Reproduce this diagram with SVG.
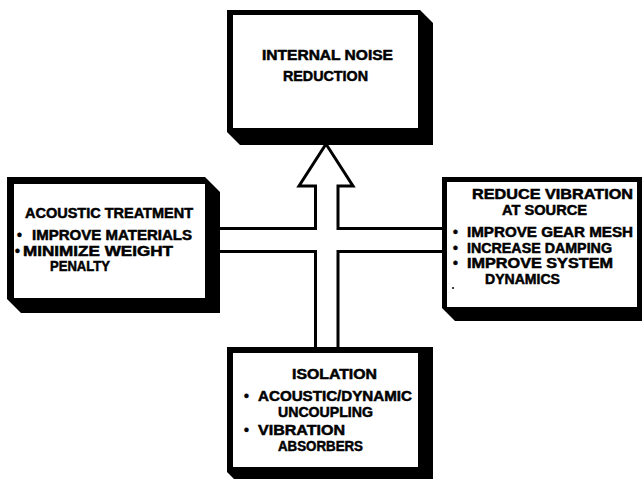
<svg xmlns="http://www.w3.org/2000/svg" width="642" height="479" viewBox="0 0 642 479">
<style>
.shadow{fill:#000}
.face{fill:#fff}
.t{font-family:"Liberation Sans","DejaVu Sans",sans-serif;font-weight:bold;font-size:14px;fill:#000;stroke:#000;stroke-width:0.5}
.conn{fill:#fff;stroke:#000;stroke-width:3;stroke-linejoin:miter}
</style>
<rect width="642" height="479" fill="#fff"/>
<g id="connectors">
<polygon class="conn" points="326,144 353,186 338,186 338,228.5 446,228.5 446,251.5 338,251.5 338,352 315.5,352 315.5,251.5 214,251.5 214,228.5 315.5,228.5 315.5,186 299,186 326,144"/>
</g>
<g id="node-top">
<polygon class="shadow" points="227,10 420,10 433,23 433,145 240,145 227,132"/>
<rect class="face" x="233" y="15" width="185" height="113"/>
<text class="t" x="262" y="60" textLength="131" lengthAdjust="spacingAndGlyphs">INTERNAL NOISE</text>
<text class="t" x="283" y="81" textLength="85" lengthAdjust="spacingAndGlyphs">REDUCTION</text>
</g>
<g id="node-left">
<polygon class="shadow" points="7,177 205,177 220,192 220,313 21,313 7,299"/>
<rect class="face" x="14" y="184" width="191" height="114"/>
<text class="t" x="25" y="218" textLength="168" lengthAdjust="spacingAndGlyphs">ACOUSTIC TREATMENT</text>
<text class="t" x="17" y="240">•</text>
<text class="t" x="32" y="240" textLength="160" lengthAdjust="spacingAndGlyphs">IMPROVE MATERIALS</text>
<text class="t" x="15" y="255.5">•</text>
<text class="t" x="23" y="255.5" textLength="150" lengthAdjust="spacingAndGlyphs">MINIMIZE WEIGHT</text>
<text class="t" x="50" y="271" textLength="60" lengthAdjust="spacingAndGlyphs">PENALTY</text>
</g>
<g id="node-right">
<polygon class="shadow" points="442,177 650,177 650,321 455,321 442,308"/>
<rect class="face" x="447" y="182" width="190" height="125"/>
<text class="t" x="472" y="199" textLength="161" lengthAdjust="spacingAndGlyphs">REDUCE VIBRATION</text>
<text class="t" x="502" y="214.5" textLength="85" lengthAdjust="spacingAndGlyphs">AT SOURCE</text>
<text class="t" x="453" y="237">•</text>
<text class="t" x="467" y="237" textLength="166" lengthAdjust="spacingAndGlyphs">IMPROVE GEAR MESH</text>
<text class="t" x="453" y="252.5">•</text>
<text class="t" x="467" y="252.5" textLength="145" lengthAdjust="spacingAndGlyphs">INCREASE DAMPING</text>
<text class="t" x="453" y="268">•</text>
<text class="t" x="467" y="268" textLength="146" lengthAdjust="spacingAndGlyphs">IMPROVE SYSTEM</text>
<text class="t" x="485" y="283.5" textLength="75" lengthAdjust="spacingAndGlyphs">DYNAMICS</text>
<circle cx="453" cy="288" r="1" fill="#000"/>
</g>
<g id="node-bottom">
<polygon class="shadow" points="227,347 433,347 433,485 240,485 227,472"/>
<rect class="face" x="233" y="353" width="185" height="114"/>
<text class="t" x="292" y="379" textLength="85" lengthAdjust="spacingAndGlyphs">ISOLATION</text>
<text class="t" x="244" y="401">•</text>
<text class="t" x="258" y="401" textLength="154" lengthAdjust="spacingAndGlyphs">ACOUSTIC/DYNAMIC</text>
<text class="t" x="278" y="416.5" textLength="95" lengthAdjust="spacingAndGlyphs">UNCOUPLING</text>
<text class="t" x="244" y="435">•</text>
<text class="t" x="258" y="435" textLength="87" lengthAdjust="spacingAndGlyphs">VIBRATION</text>
<text class="t" x="278" y="450.5" textLength="85" lengthAdjust="spacingAndGlyphs">ABSORBERS</text>
</g>
</svg>
